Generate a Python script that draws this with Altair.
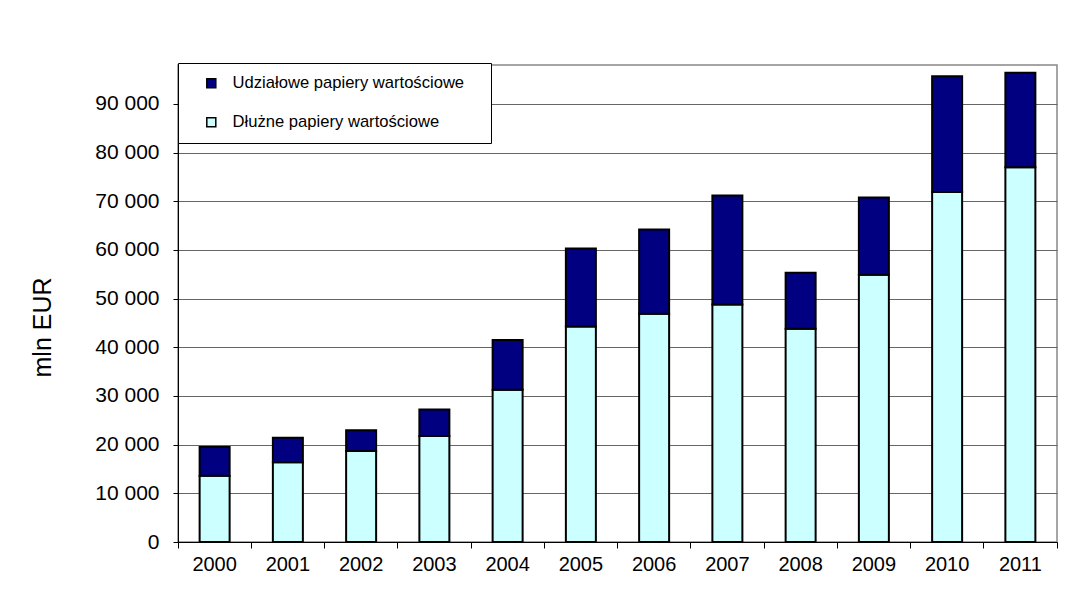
import altair as alt
import pandas as pd

years = ["2000", "2001", "2002", "2003", "2004", "2005", "2006", "2007", "2008", "2009", "2010", "2011"]
debt = [13600, 16400, 18700, 21800, 31300, 44300, 46900, 48800, 43800, 54900, 71900, 77000]
equity = [5900, 5000, 4250, 5400, 10200, 16000, 17300, 22400, 11500, 15900, 23800, 19400]

s_eq = "Udziałowe papiery wartościowe"
s_debt = "Dłużne papiery wartościowe"

rows = []
for y, d, e in zip(years, debt, equity):
    rows.append({"year": y, "series": s_debt, "value": d, "ord": 0})
    rows.append({"year": y, "series": s_eq, "value": e, "ord": 1})
df = pd.DataFrame(rows)

FONT = "Arial, Liberation Sans, sans-serif"

chart = alt.Chart(df).mark_bar(size=30, stroke="black", strokeWidth=2).encode(
    x=alt.X("year:N", sort=years,
            scale=alt.Scale(paddingInner=0, paddingOuter=0),
            axis=alt.Axis(title=None, labelAngle=0, labelFontSize=20, labelFont=FONT,
                          labelColor="black", domainColor="black", tickColor="black",
                          tickSize=6, bandPosition=1, tickExtra=True, labelPadding=6,
                          grid=False)),
    y=alt.Y("value:Q", stack="zero",
            scale=alt.Scale(domain=[0, 98000], nice=False),
            axis=alt.Axis(title="mln EUR", values=list(range(0, 100000, 10000)),
                          labelExpr="replace(format(datum.value, ','), ',', ' ')",
                          labelFontSize=21, labelFont=FONT, labelColor="black",
                          titleFontSize=25, titleFont=FONT, titleFontWeight="normal",
                          titleColor="black", titleX=-136, titleY=262, titleBaseline="middle",
                          domainColor="black", tickColor="black", tickSize=5, labelPadding=14,
                          grid=True, gridColor="#666666", gridWidth=1)),
    color=alt.Color("series:N",
                    scale=alt.Scale(domain=[s_eq, s_debt], range=["#000080", "#CCFFFF"]),
                    legend=alt.Legend(title="ab", titleOrient="right", titleFontSize=8,
                                      titlePadding=5, titleOpacity=0,
                                      orient="none", legendX=0, legendY=-2,
                                      fillColor="white", strokeColor="black", padding=12,
                                      symbolType="square", symbolSize=81, symbolStrokeColor="black",
                                      symbolStrokeWidth=1.5, symbolOffset=13, labelOffset=13,
                                      rowPadding=22, labelFontSize=16.6, labelFont=FONT,
                                      labelColor="black", labelLimit=400)),
    order=alt.Order("ord:Q"),
).properties(
    width=879, height=477,
    autosize=alt.AutoSizeParams(type="none"),
    padding={"left": 170, "top": 57, "right": 10, "bottom": 58},
).configure_view(stroke="#888888", strokeWidth=1.5)

chart.save("out.html", embed_options={"renderer": "svg", "actions": False})
